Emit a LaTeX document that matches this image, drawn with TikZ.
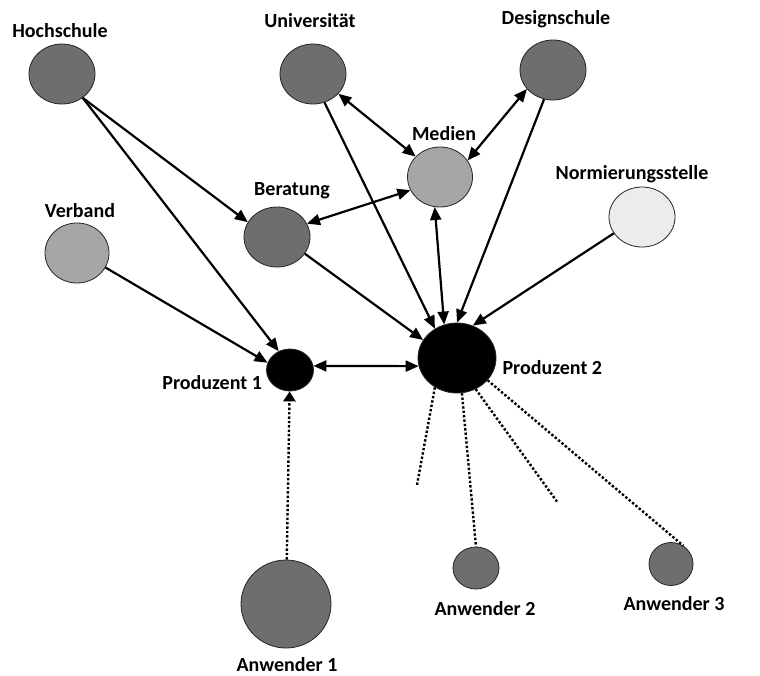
\documentclass[tikz,border=0pt]{standalone}
\usepackage{fontspec}
\setmainfont{Carlito}
\usetikzlibrary{shapes.geometric, positioning, arrows.meta}
\definecolor{dunkelgrau}{RGB}{110,110,110}
\definecolor{mittelgrau}{RGB}{166,166,166}
\definecolor{hellgrau}{RGB}{236,236,236}
\tikzset{
  akteur/.style={ellipse, draw=black!85, line width=0.8pt, minimum width=66pt, minimum height=60pt, inner sep=0pt},
  dunkel/.style={akteur, fill=dunkelgrau},
  mittel/.style={akteur, fill=mittelgrau},
  hell/.style={akteur, fill=hellgrau},
  produzent/.style={akteur, fill=black},
  beschriftung/.style={font=\bfseries\fontsize{20}{24}\selectfont, inner sep=0pt, text height=14pt, text depth=0pt},
  arrow/.style={line width=2.2pt, -{Triangle[length=13pt,width=11pt]}},
  doppelpfeil/.style={line width=2.2pt, {Triangle[length=13pt,width=11pt]}-{Triangle[length=13pt,width=11pt]}},
  punktiert/.style={line width=2.4pt, dotted},
  punktpfeil/.style={line width=2.4pt, dotted, -{Triangle[length=10pt,width=12pt]}}
}
\begin{document}
\begin{tikzpicture}[x=1pt, y=-1pt]
        \useasboundingbox (0,0) rectangle (760,675);

        % Akteure
        \node (hochschule) [dunkel] at (62,74) {};
        \node (uni) [dunkel] at (313,74) {};
        \node (design) [dunkel] at (553,70) {};
        \node (medien) [mittel, minimum width=65pt] at (440,177) {};
        \node (norm) [hell] at (642,217) {};
        \node (beratung) [dunkel] at (277,237) {};
        \node (verband) [mittel, minimum width=64pt] at (77,253) {};
        \node (prod1) [produzent, minimum width=47pt, minimum height=42pt] at (290,370) {};
        \node (prod2) [produzent, minimum width=78pt, minimum height=70pt] at (457,358) {};
        \node (anw1) [dunkel, minimum width=90pt, minimum height=88pt] at (286,604) {};
        \node (anw2) [dunkel, minimum width=46pt, minimum height=42pt] at (476,568) {};
        \node (anw3) [dunkel, minimum width=44pt, minimum height=43pt] at (671,564) {};

        % Beschriftungen
        \node (lhochschule) [beschriftung, above=5.6pt of hochschule, xshift=-2pt] {Hochschule};
        \node (luni) [beschriftung, above=15.6pt of uni, xshift=-3pt] {Universität};
        \node (ldesign) [beschriftung, above=14.6pt of design, xshift=3pt] {Designschule};
        \node (lmedien) [beschriftung, above=5.6pt of medien, xshift=4pt] {Medien};
        \node (lnorm) [beschriftung, above=6.6pt of norm, xshift=-10pt] {Normierungsstelle};
        \node (lberatung) [beschriftung, above=10.6pt of beratung, xshift=15pt] {Beratung};
        \node (lverband) [beschriftung, above=4.6pt of verband, xshift=3pt] {Verband};
        \node (lprod1) [beschriftung, left=4pt of prod1, yshift=-12.4pt] {Produzent 1};
        \node (lprod2) [beschriftung, right=6pt of prod2, yshift=-9.4pt] {Produzent 2};
        \node (lanw1) [beschriftung, below=9pt of anw1, xshift=1pt] {Anwender 1};
        \node (lanw2) [beschriftung, below=11.4pt of anw2, xshift=9pt] {Anwender 2};
        \node (lanw3) [beschriftung, below=10.4pt of anw3, xshift=3pt] {Anwender 3};

        % Freie Enden der punktierten Linien
        \coordinate (frei1) at (417,485);
        \coordinate (frei2) at (558,503);

        % Gerichtete Verbindungen
        \draw [arrow] (hochschule.311) -- (beratung.153);
        \draw [arrow] (hochschule.311) -- (prod1.121);
        \draw [arrow] (verband.333) -- (prod1.162);
        \draw [arrow] (beratung.329) -- (prod2.152);
        \draw [arrow] (uni.292) -- (prod2.127);
        \draw [arrow] (design.253) -- (prod2.90);
        \draw [arrow] (norm.210) -- (prod2.64);

        % Wechselseitige Verbindungen
        \draw [doppelpfeil] (beratung.24) -- (medien.204);
        \draw [doppelpfeil] (uni.322) -- (medien.140);
        \draw [doppelpfeil] (medien.31) -- (design.216);
        \draw [doppelpfeil] (medien.260) -- (prod2.111);
        \draw [doppelpfeil] (prod1.10) -- (prod2.192);

        % Punktierte Linien zu den Anwendern
        \draw [punktpfeil] (anw1) -- (prod1);
        \draw [punktiert] (prod2.233) -- (frei1);
        \draw [punktiert] (prod2.278) -- (anw2.north);
        \draw [punktiert] (prod2.301) -- (frei2);
        \draw [punktiert] (prod2.324) -- (anw3.56);

    \end{tikzpicture}
\end{document}
